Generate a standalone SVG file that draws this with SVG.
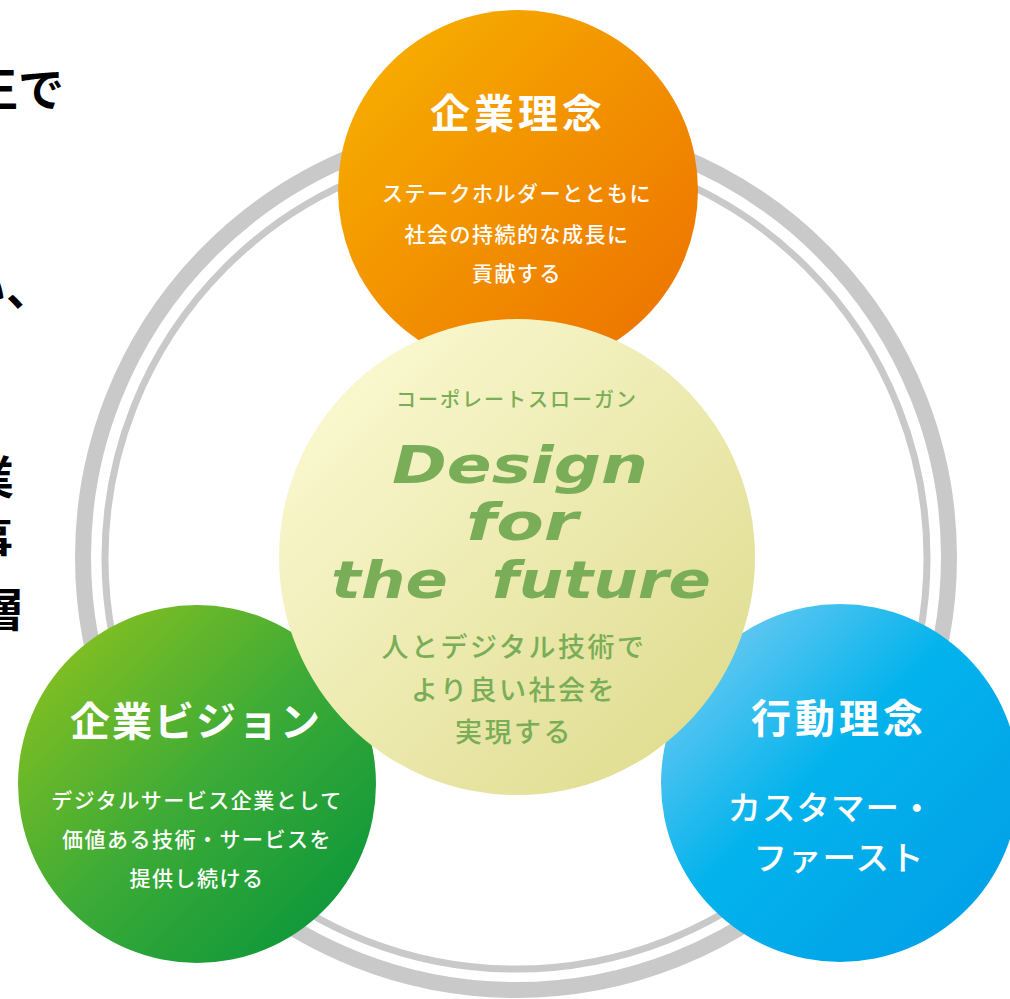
<svg xmlns="http://www.w3.org/2000/svg" width="1010" height="999" viewBox="0 0 1010 999">
<defs>
<linearGradient id="gOrange" x1="0" y1="0" x2="1" y2="1">
<stop offset="0" stop-color="#f8b400"/><stop offset="1" stop-color="#ec6e00"/>
</linearGradient>
<linearGradient id="gGreen" x1="0" y1="0" x2="1" y2="1">
<stop offset="0" stop-color="#98c51c"/><stop offset="0.5" stop-color="#3dab36"/><stop offset="1" stop-color="#00923c"/>
</linearGradient>
<linearGradient id="gBlue" x1="0" y1="0" x2="1" y2="1">
<stop offset="0" stop-color="#8ad0f3"/><stop offset="0.45" stop-color="#03b3ec"/><stop offset="1" stop-color="#009ce6"/>
</linearGradient>
<linearGradient id="gYellow" x1="0" y1="0" x2="1" y2="1">
<stop offset="0" stop-color="#fefcd9"/><stop offset="1" stop-color="#dcd988"/>
</linearGradient>
<style>
.ring{fill:none;stroke:#c9c9c9}
.jp{font-family:"Noto Sans CJK JP","Noto Sans",sans-serif}
.title{font-size:40px;font-weight:700;fill:#fff;text-anchor:middle;letter-spacing:4px}
.body{font-size:21px;font-weight:500;fill:#fff;text-anchor:middle;letter-spacing:1.5px}
.green{fill:#7aad57;text-anchor:middle}
.slogan{font-family:"DejaVu Sans",sans-serif;font-weight:700;font-style:italic;font-size:52px;fill:#7aad57;text-anchor:middle}
.side{font-size:46px;font-weight:700;fill:#000}
</style>
</defs>
<g id="side-text" class="jp side">
<text x="-28" y="106">王で</text>
<text x="-40" y="305">い、</text>
<text x="-32" y="494">業</text>
<text x="-33" y="556">事</text>
<text x="-22" y="626">層</text>
</g>
<g id="connectors">
<circle class="ring" cx="516" cy="557" r="433" stroke-width="16"/>
<circle class="ring" cx="516" cy="558" r="411" stroke-width="7"/>
</g>
<g id="node-philosophy">
<circle cx="518" cy="190" r="180" fill="url(#gOrange)"/>
<text class="jp title" x="518" y="128">企業理念</text>
<text class="jp body" x="517" y="201">ステークホルダーとともに</text>
<text class="jp body" x="517" y="242">社会の持続的な成長に</text>
<text class="jp body" x="517" y="281">貢献する</text>
</g>
<g id="node-vision">
<circle cx="197" cy="784" r="179" fill="url(#gGreen)"/>
<text class="jp title" x="196" y="736" style="letter-spacing:2px">企業ビジョン</text>
<text class="jp body" x="197" y="808">デジタルサービス企業として</text>
<text class="jp body" x="197" y="847">価値ある技術・サービスを</text>
<text class="jp body" x="197" y="886">提供し続ける</text>
</g>
<g id="node-conduct">
<circle cx="840" cy="783" r="179" fill="url(#gBlue)"/>
<text class="jp title" x="839" y="733">行動理念</text>
<text class="jp" x="831" y="820" style="font-size:33.5px;font-weight:500;fill:#fff;text-anchor:middle;letter-spacing:1px">カスタマー・</text>
<text class="jp" x="839" y="870" style="font-size:33.5px;font-weight:500;fill:#fff;text-anchor:middle;letter-spacing:1px">ファースト</text>
</g>
<g id="node-slogan">
<circle cx="517" cy="557" r="238" fill="url(#gYellow)"/>
<text class="jp green" x="517" y="407" style="font-size:20px;font-weight:500;letter-spacing:2px">コーポレートスローガン</text>
<text class="slogan" x="520" y="483" textLength="256" lengthAdjust="spacingAndGlyphs">Design</text>
<text class="slogan" x="522" y="540" textLength="112" lengthAdjust="spacingAndGlyphs">for</text>
<text class="slogan" x="521" y="598" textLength="380" lengthAdjust="spacingAndGlyphs" xml:space="preserve">the  future</text>
<text class="jp green" x="514" y="657" style="font-size:27px;font-weight:500;letter-spacing:2.5px">人とデジタル技術で</text>
<text class="jp green" x="514" y="700" style="font-size:27px;font-weight:500;letter-spacing:2.5px">より良い社会を</text>
<text class="jp green" x="514" y="742" style="font-size:27px;font-weight:500;letter-spacing:2.5px">実現する</text>
</g>
</svg>
